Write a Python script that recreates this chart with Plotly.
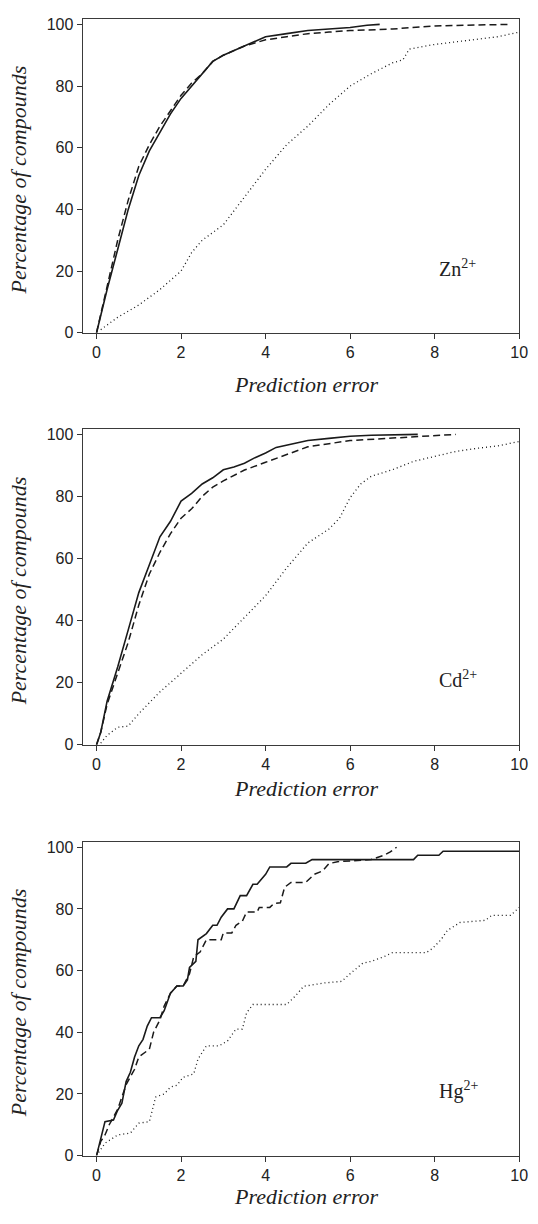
import plotly.graph_objects as go

# ---------------- data ----------------
x_ticks = [0, 2, 4, 6, 8, 10]
y_ticks = [0, 20, 40, 60, 80, 100]
ion_labels = ["Zn<sup>2+</sup>", "Cd<sup>2+</sup>", "Hg<sup>2+</sup>"]
x_title = "Prediction error"
y_title = "Percentage of compounds"

# Zn2+
zn_solid_x = [0, 0.1, 0.25, 0.5, 0.75, 1.0, 1.25, 1.5, 1.75, 2.0, 2.25, 2.5, 2.75, 3.0, 3.25, 3.5, 3.75, 4.0, 4.5, 5.0, 5.5, 6.0, 6.4, 6.7]
zn_solid_y = [0, 6, 14, 27, 40, 51, 59, 65, 71, 76, 80, 84, 88, 90, 91.5, 93, 94.3, 96, 97, 98, 98.5, 99, 99.7, 100]
zn_dash_x = [0, 0.1, 0.25, 0.5, 0.75, 1.0, 1.25, 1.5, 1.75, 2.0, 2.25, 2.5, 2.75, 3.0, 3.5, 4.0, 4.5, 5.0, 5.5, 6.0, 7.0, 8.0, 9.0, 9.8]
zn_dash_y = [0, 6, 15, 30, 43, 54, 61, 67, 72, 77, 81, 84, 88, 90, 93, 95, 96, 97, 97.5, 98, 98.5, 99.5, 99.8, 100]
zn_dot_x = [0.1, 0.5, 1.0, 1.5, 2.0, 2.25, 2.5, 3.0, 3.5, 4.0, 4.5, 5.0, 5.5, 6.0, 6.5, 7.0, 7.25, 7.4, 8.0, 8.5, 9.0, 9.5, 10]
zn_dot_y = [1, 5, 9, 14, 20, 26, 30, 35, 44, 53, 61, 67, 74, 80, 84, 87.5, 88.5, 92, 93.5, 94.3, 95, 96, 97.5]

# Cd2+
cd_solid_x = [0, 0.1, 0.25, 0.5, 0.75, 1.0, 1.25, 1.5, 1.75, 2.0, 2.25, 2.5, 2.75, 3.0, 3.25, 3.5, 3.75, 4.0, 4.25, 4.5, 5.0, 5.5, 6.0, 6.5, 7.0, 7.6]
cd_solid_y = [0, 4, 14, 25, 37, 49, 58, 67, 72, 78.5, 81, 84, 86, 88.6, 89.5, 90.7, 92.5, 94, 95.8, 96.6, 98, 98.7, 99.4, 99.7, 99.8, 100]
cd_dash_x = [0, 0.1, 0.25, 0.5, 0.75, 1.0, 1.25, 1.5, 1.75, 2.0, 2.25, 2.5, 2.75, 3.0, 3.5, 4.0, 4.5, 5.0, 5.5, 6.0, 7.0, 8.0, 8.5]
cd_dash_y = [0, 4, 13, 23, 33, 45, 55, 62, 68, 73, 76, 80, 83, 85, 88.5, 91, 93.5, 96, 97, 98, 98.8, 99.5, 100]
cd_dot_x = [0.1, 0.25, 0.5, 0.75, 1.0, 1.5, 2.0, 2.5, 3.0, 3.5, 4.0, 4.5, 5.0, 5.5, 5.75, 6.0, 6.25, 6.5, 7.0, 7.5, 8.0, 8.5, 9.0, 9.5, 10]
cd_dot_y = [0.5, 3, 5.6, 6, 10, 17, 23, 29, 34, 41, 48, 57, 65, 69.5, 73, 79.6, 84, 86.5, 88.6, 91.3, 92.9, 94.5, 95.5, 96.3, 97.7]

# Hg2+
hg_solid_x = [0, 0.2, 0.4, 0.5, 0.6, 0.7, 0.8, 0.9, 1.0, 1.1, 1.2, 1.3, 1.5, 1.6, 1.75, 1.9, 2.05, 2.15, 2.2, 2.35, 2.4, 2.6, 2.75, 2.85, 2.95, 3.1, 3.25, 3.4, 3.55, 3.7, 3.8, 4.0, 4.1, 4.5, 4.6, 4.95, 5.1, 7.5, 7.6, 8.1, 8.2, 10]
hg_solid_y = [0, 11, 11.5, 14.7, 17, 24, 27, 32, 35.6, 37.7, 42, 44.7, 44.7, 47, 52.7, 55, 55, 57, 61, 63, 70, 72, 74.7, 74.7, 77.3, 80, 80, 84.3, 84.3, 88, 88, 91.2, 93.6, 93.6, 94.8, 94.8, 96, 96, 97.4, 97.4, 98.7, 98.7]
hg_dash_x = [0, 0.1, 0.2, 0.3, 0.5, 0.7, 0.9, 1.0, 1.25, 1.35, 1.5, 1.6, 1.75, 1.9, 2.05, 2.2, 2.3, 2.45, 2.6, 2.95, 3.0, 3.2, 3.3, 3.45, 3.55, 3.8, 3.85, 4.1, 4.2, 4.35, 4.45, 4.6, 4.95, 5.15, 5.35, 5.5, 5.7, 6.5, 6.8, 6.95, 7.1]
hg_dash_y = [0, 4.6, 6.7, 10, 15, 23, 28, 32, 34.5, 40, 44, 48.5, 52.7, 55, 55, 59, 64.5, 66, 70, 70, 72.2, 72.2, 74.7, 76, 79, 79, 80.5, 80.5, 81.8, 82, 87, 88.6, 88.6, 91.2, 92.3, 94.7, 95.3, 96, 97.4, 98.5, 100]
hg_dot_x = [0.05, 0.2, 0.5, 0.8, 1.0, 1.25, 1.4, 1.6, 1.75, 1.9, 2.05, 2.3, 2.4, 2.6, 2.9, 3.1, 3.3, 3.45, 3.55, 3.7, 4.5, 4.7, 4.9, 5.4, 5.8, 6.0, 6.3, 6.5, 6.8, 7.0, 7.8, 7.95, 8.15, 8.3, 8.6, 9.2, 9.35, 9.8, 10]
hg_dot_y = [1, 4, 6.7, 7.3, 10.5, 11, 19, 20, 22.2, 22.8, 25.4, 26.5, 31.3, 35.6, 35.6, 37.2, 41, 41, 46.3, 49, 49, 51.7, 54.9, 56, 56.5, 59, 62.4, 63, 64.5, 65.8, 65.8, 67.2, 70, 73, 75.6, 76.3, 77.9, 77.9, 80.5]

panels = [
    (zn_solid_x, zn_solid_y, zn_dash_x, zn_dash_y, zn_dot_x, zn_dot_y),
    (cd_solid_x, cd_solid_y, cd_dash_x, cd_dash_y, cd_dot_x, cd_dot_y),
    (hg_solid_x, hg_solid_y, hg_dash_x, hg_dash_y, hg_dot_x, hg_dot_y),
]

# ---------------- layout geometry (reference pixels) ----------------
W, H = 538, 1224
plot_left, plot_right = 84, 528
panel_px = [(16, 333), (430, 749), (847, 1164)]  # (top, bottom)
xtitle_y = [385, 793, 1205]
xtitle_x = 312
ytitle_x = 19

serif = "Liberation Serif, Times New Roman, serif"
ink = "#1a1a1a"

fig = go.Figure()

for i, (sx, sy, dx, dy, ox, oy) in enumerate(panels):
    n = "" if i == 0 else str(i + 1)
    xa, ya = "x" + n, "y" + n
    fig.add_trace(go.Scatter(x=ox, y=oy, xaxis=xa, yaxis=ya, mode="lines",
                             line=dict(color=ink, width=1.3, dash="1px,3px"), showlegend=False))
    fig.add_trace(go.Scatter(x=dx, y=dy, xaxis=xa, yaxis=ya, mode="lines",
                             line=dict(color=ink, width=1.5, dash="7px,4px"), showlegend=False))
    fig.add_trace(go.Scatter(x=sx, y=sy, xaxis=xa, yaxis=ya, mode="lines",
                             line=dict(color=ink, width=1.6), showlegend=False))

    top, bot = panel_px[i]
    axis_common = dict(showgrid=False, zeroline=False, showline=True, linecolor="#3a3a3a",
                       linewidth=1, mirror=True, ticks="outside", ticklen=5, tickwidth=1,
                       tickcolor="#333",
                       tickfont=dict(family="Liberation Sans, Arial, sans-serif", size=16, color="#222"))
    fig.update_layout(**{
        "xaxis" + n: dict(domain=[plot_left / W, plot_right / W], range=[-0.33, 10],
                          tickvals=x_ticks, anchor=ya, **axis_common),
        "yaxis" + n: dict(domain=[1 - bot / H, 1 - top / H], range=[0, 101.8],
                          tickvals=y_ticks, anchor=xa, **axis_common),
    })

    # axis titles
    fig.add_annotation(text=x_title, xref="paper", yref="paper",
                       x=xtitle_x / W, y=1 - xtitle_y[i] / H, xanchor="center", yanchor="middle",
                       showarrow=False,
                       font=dict(family=serif, size=22, color="#222", style="italic"))
    fig.add_annotation(text=y_title, xref="paper", yref="paper",
                       x=ytitle_x / W, y=1 - ((top + bot) / 2 + 4) / H, xanchor="center",
                       yanchor="middle", textangle=-90, showarrow=False,
                       font=dict(family=serif, size=22, color="#222", style="italic"))
    # ion label
    fig.add_annotation(text=ion_labels[i], xref=xa, yref=ya, x=8.05, y=21,
                       xanchor="left", yanchor="middle", showarrow=False,
                       font=dict(family=serif, size=20, color="#222"))

fig.update_layout(width=W, height=H, margin=dict(l=0, r=0, t=0, b=0),
                  plot_bgcolor="white", paper_bgcolor="white", hovermode=False)

# remove the browser's default 8px body margin so the figure fills the window exactly
fig.write_html("out.html",
               config={"displayModeBar": False, "staticPlot": True},
               post_script="document.body.style.margin='0px';document.body.style.overflow='hidden';")
